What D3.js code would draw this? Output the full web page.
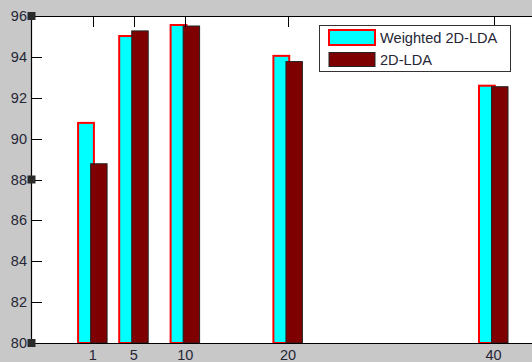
<!DOCTYPE html>
<html>
<head>
<meta charset="utf-8">
<script src="https://cdn.jsdelivr.net/npm/d3@7"></script>
<style>
  html, body { margin: 0; padding: 0; background: #c8c8c8; }
  svg { display: block; }
  text { font-family: Arial, "Liberation Sans", sans-serif; }
</style>
</head>
<body>
<svg id="chart" width="532" height="362"></svg>
<script>
const categories = [1, 5, 10, 20, 40];
const weighted2DLDA = [90.77, 95.02, 95.56, 94.05, 92.59];
const lda2D = [88.77, 95.27, 95.51, 93.77, 92.54];
const seriesNames = ["Weighted 2D-LDA", "2D-LDA"];
const yTicks = [80, 82, 84, 86, 88, 90, 92, 94, 96];

(function () {
const svg = d3.select("#chart");
const W = 532, H = 362;
const pLeft = 31, pTop = 16, pBottom = 343;

const x = d3.scaleLinear().domain([-5, 45]).range([31, 545]);
const y = d3.scaleLinear().domain([80, 96]).range([pBottom, pTop]);

svg.append("rect").attr("width", W).attr("height", H).attr("fill", "#c8c8c8");
svg.append("rect").attr("x", pLeft).attr("y", pTop)
  .attr("width", W - pLeft + 10).attr("height", pBottom - pTop)
  .attr("fill", "#ffffff");

const cyanOff = [-1.42, 0.12];
const darkOff = [-0.2, 1.4];
const g = svg.append("g");
g.selectAll("rect.w").data(categories).enter().append("rect")
  .attr("class", "w")
  .attr("x", (d) => x(d + cyanOff[0]))
  .attr("width", (d) => x(d + cyanOff[1]) - x(d + cyanOff[0]))
  .attr("y", (d, i) => y(weighted2DLDA[i]))
  .attr("height", (d, i) => y(80) - y(weighted2DLDA[i]))
  .attr("fill", "#00ffff").attr("stroke", "#ff0000").attr("stroke-width", 2);
g.selectAll("rect.l").data(categories).enter().append("rect")
  .attr("class", "l")
  .attr("x", (d) => x(d + darkOff[0]))
  .attr("width", (d) => x(d + darkOff[1]) - x(d + darkOff[0]))
  .attr("y", (d, i) => y(lda2D[i]))
  .attr("height", (d, i) => y(80) - y(lda2D[i]))
  .attr("fill", "#7f0000").attr("stroke", "#222").attr("stroke-width", 1);

svg.append("line").attr("x1", pLeft + 0.5).attr("x2", pLeft + 0.5).attr("y1", pTop).attr("y2", pBottom + 0.5)
  .attr("stroke", "#000").attr("stroke-width", 1.2);
svg.append("line").attr("x1", pLeft).attr("x2", W).attr("y1", pTop + 0.5).attr("y2", pTop + 0.5)
  .attr("stroke", "#000").attr("stroke-width", 1.2);
svg.append("line").attr("x1", pLeft).attr("x2", W).attr("y1", pBottom + 0.5).attr("y2", pBottom + 0.5)
  .attr("stroke", "#000").attr("stroke-width", 1.2);

const yAxis = svg.append("g");
yAxis.selectAll("line").data(yTicks).enter().append("line")
  .attr("x1", pLeft).attr("x2", pLeft + 11)
  .attr("y1", (d) => Math.round(y(d)) + 0.5).attr("y2", (d) => Math.round(y(d)) + 0.5)
  .attr("stroke", "#000").attr("stroke-width", 1);
yAxis.selectAll("text").data(yTicks).enter().append("text")
  .attr("x", 27).attr("y", (d) => y(d) + 5)
  .attr("text-anchor", "end").attr("font-size", 14.5).attr("fill", "#262636")
  .text((d) => d);

const xAxis = svg.append("g");
xAxis.selectAll("line").data(categories).enter().append("line")
  .attr("x1", (d) => Math.round(x(d)) + 0.5).attr("x2", (d) => Math.round(x(d)) + 0.5)
  .attr("y1", pTop).attr("y2", pTop + 11)
  .attr("stroke", "#000").attr("stroke-width", 1);
xAxis.selectAll("text").data(categories).enter().append("text")
  .attr("x", (d) => x(d)).attr("y", 360)
  .attr("text-anchor", "middle").attr("font-size", 14.5).attr("fill", "#262636")
  .text((d) => d);

[80, 88, 96].forEach((v) => {
  svg.append("rect").attr("x", pLeft - 3.5).attr("y", y(v) - 4)
    .attr("width", 8).attr("height", 8).attr("fill", "#2a2a2a");
});

const lg = svg.append("g");
lg.append("rect").attr("x", 319.5).attr("y", 25.5).attr("width", 191).attr("height", 46)
  .attr("fill", "#fff").attr("stroke", "#333").attr("stroke-width", 1);
lg.append("rect").attr("x", 329).attr("y", 30).attr("width", 46).attr("height", 15)
  .attr("fill", "#00ffff").attr("stroke", "#ff0000").attr("stroke-width", 2);
lg.append("rect").attr("x", 329).attr("y", 52.5).attr("width", 46).attr("height", 14)
  .attr("fill", "#7f0000").attr("stroke", "#222").attr("stroke-width", 1);
lg.append("text").attr("x", 380).attr("y", 43).attr("font-size", 14.6).attr("fill", "#262636").text(seriesNames[0]);
lg.append("text").attr("x", 380).attr("y", 65).attr("font-size", 14.6).attr("fill", "#262636").text(seriesNames[1]);
})();
</script>
</body>
</html>
